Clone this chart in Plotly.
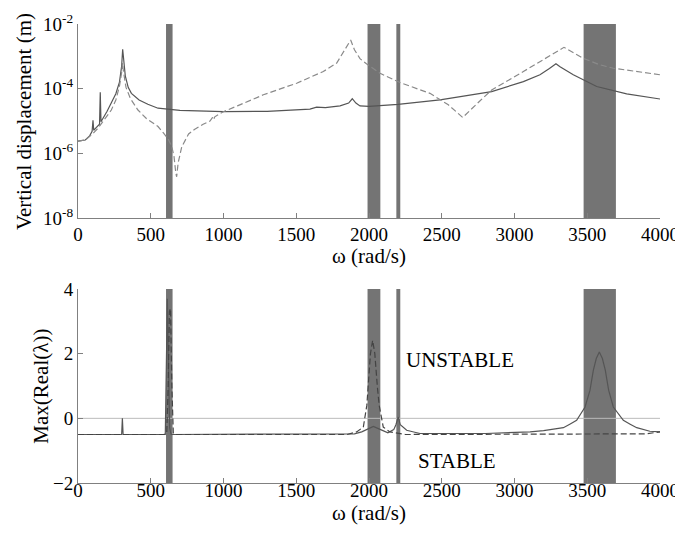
import plotly.graph_objects as go
from plotly.subplots import make_subplots

# ---------------- data ----------------
omega_solid_top = [0, 50, 80, 97, 103, 108, 125, 148, 153, 158, 200, 229, 260, 285, 300, 307, 313, 325, 345,
                   367, 420, 480, 550, 700, 1000, 1300, 1594, 1640, 1700, 1801, 1860, 1885, 1910, 1938, 2000,
                   2200, 2488, 2843, 3061, 3175, 3240, 3285, 3313, 3404, 3565, 3771, 4000]
disp_solid_top = [2.4e-6, 2.6e-6, 3.5e-6, 4.8e-6, 1.05e-5, 5.2e-6, 6.3e-6, 8.0e-6, 7.8e-5, 9.5e-6, 2.0e-5,
                  3.5e-5, 7.0e-5, 1.6e-4, 5.0e-4, 1.66e-3, 7.0e-4, 2.5e-4, 1.1e-4, 7.2e-5, 4.5e-5, 3.3e-5,
                  2.5e-5, 2.15e-5, 1.95e-5, 2.0e-5, 2.35e-5, 2.7e-5, 2.6e-5, 2.95e-5, 3.6e-5, 4.9e-5, 3.6e-5,
                  2.95e-5, 2.85e-5, 3.3e-5, 4.5e-5, 8.1e-5, 1.66e-4, 2.7e-4, 4.2e-4, 5.9e-4, 4.8e-4, 2.7e-4,
                  1.17e-4, 6.9e-5, 4.8e-5]

omega_dash_top = [0, 50, 100, 137, 180, 229, 260, 285, 300, 306, 312, 330, 360, 412, 470, 550, 587, 620, 645,
                  660, 672, 678, 688, 713, 760, 800, 860, 907, 925, 932, 940, 999, 1100, 1274, 1503, 1686,
                  1778, 1835, 1874, 1900, 1938, 1980, 2076, 2213, 2419, 2545, 2644, 2760, 2843, 3061, 3200,
                  3340, 3473, 3580, 3680, 3850, 4000]
disp_dash_top = [2.4e-6, 2.6e-6, 4.0e-6, 6.0e-6, 1.1e-5, 2.2e-5, 4.5e-5, 1.2e-4, 3.2e-4, 6.3e-4, 3.5e-4,
                 1.1e-4, 5.0e-5, 2.2e-5, 1.2e-5, 6.8e-6, 4.3e-6, 2.8e-6, 1.6e-6, 8.0e-7, 2.5e-7, 1.9e-7,
                 5.0e-7, 1.6e-6, 4.0e-6, 5.5e-6, 8.0e-6, 1.0e-5, 1.3e-5, 1.1e-5, 1.35e-5, 1.95e-5, 3.0e-5,
                 6.5e-5, 1.48e-4, 3.4e-4, 6.2e-4, 1.6e-3, 3.2e-3, 1.6e-3, 8.5e-4, 6.0e-4, 3.0e-4, 1.55e-4,
                 7.2e-5, 3.2e-5, 1.29e-5, 4.1e-5, 9.1e-5, 3.4e-4, 8.0e-4, 1.9e-3, 8.7e-4, 5.6e-4, 4.3e-4,
                 3.3e-4, 2.7e-4]

omega_solid_bot = [0, 300, 305, 310, 600, 608, 614, 620, 630, 640, 1900, 1950, 2000, 2030, 2080, 2130, 2170,
                   2185, 2201, 2215, 2259, 2350, 2800, 3107, 3200, 3336, 3380, 3427, 3485, 3519, 3542, 3562,
                   3583, 3604, 3624, 3647, 3679, 3748, 3795, 3840, 3930, 4000]
real_solid_bot = [-0.5, -0.5, 0.0, -0.5, -0.5, 1.5, 3.7, 2.0, -0.3, -0.5, -0.48, -0.42, -0.3, -0.25, -0.35,
                  -0.45, -0.35, -0.2, 0.04, -0.2, -0.37, -0.47, -0.47, -0.42, -0.38, -0.29, -0.18, -0.06, 0.35,
                  0.87, 1.49, 1.85, 2.05, 1.85, 1.49, 0.87, 0.35, -0.06, -0.18, -0.29, -0.4, -0.42]

omega_dash_bot = [0, 590, 610, 620, 628, 636, 645, 655, 665, 1850, 1915, 1961, 1985, 1995, 2010, 2025, 2040,
                  2057, 2070, 2098, 2144, 2250, 3900, 4000]
real_dash_bot = [-0.5, -0.5, -0.45, 1.0, 3.3, 3.4, 1.0, -0.45, -0.5, -0.5, -0.42, -0.27, 0.4, 1.0, 2.0, 2.41,
                 2.0, 1.0, 0.4, -0.27, -0.42, -0.5, -0.48, -0.42]

unstable_bands = [(605, 650), (1990, 2078), (2188, 2215), (3475, 3697)]

x_ticks = [0, 500, 1000, 1500, 2000, 2500, 3000, 3500, 4000]
top_y_ticks = [1e-8, 1e-6, 1e-4, 1e-2]
top_y_ticktext = ["10<sup>-8</sup>", "10<sup>-6</sup>", "10<sup>-4</sup>", "10<sup>-2</sup>"]
bot_y_ticks = [-2, 0, 2, 4]

# ---------------- figure ----------------
FONT = "Liberation Serif"
fig = make_subplots(rows=2, cols=1, vertical_spacing=0.154)

fig.add_trace(go.Scatter(x=omega_solid_top, y=disp_solid_top, mode="lines",
                         line=dict(color="#555555", width=1.2)), row=1, col=1)
fig.add_trace(go.Scatter(x=omega_dash_top, y=disp_dash_top, mode="lines",
                         line=dict(color="#8a8a8a", width=1.2, dash="6px,3px")), row=1, col=1)
fig.add_trace(go.Scatter(x=omega_solid_bot, y=real_solid_bot, mode="lines",
                         line=dict(color="#555555", width=1.2)), row=2, col=1)
fig.add_trace(go.Scatter(x=omega_dash_bot, y=real_dash_bot, mode="lines",
                         line=dict(color="#444444", width=1.2, dash="6px,3px")), row=2, col=1)

for (a, b) in unstable_bands:
    for xr, yr in (("x", "y domain"), ("x2", "y2 domain")):
        fig.add_shape(type="rect", xref=xr, yref=yr,
                      x0=a, x1=b, y0=0, y1=1, fillcolor="#747474", line=dict(width=0), layer="below")

fig.add_shape(type="line", xref="x2 domain", yref="y2", x0=0, x1=1, y0=0, y1=0,
              line=dict(color="#bbbbbb", width=1), layer="below")

axis_common = dict(showline=True, linecolor="#808080", linewidth=1, ticks="inside", ticklen=5,
                   tickcolor="#808080", showgrid=False, zeroline=False, mirror=False,
                   tickfont=dict(family=FONT, size=19, color="black"))

fig.update_xaxes(range=[0, 4000], tickvals=x_ticks, **axis_common)
fig.update_xaxes(ticklabelstandoff=-1, row=1, col=1)
fig.update_xaxes(ticklabelstandoff=-10, row=2, col=1)
fig.update_yaxes(type="log", range=[-8, -2], tickvals=top_y_ticks, ticktext=top_y_ticktext,
                 row=1, col=1, **axis_common)
fig.update_yaxes(range=[-2, 4], tickvals=bot_y_ticks, row=2, col=1, **axis_common)

title_font = dict(family=FONT, size=21, color="black")
# axis titles
fig.add_annotation(x=0.5, y=0.495, xref="paper", yref="paper", text="ω (rad/s)", showarrow=False,
                   xanchor="center", yanchor="middle", font=title_font)
fig.add_annotation(x=0.5, y=-0.066, xref="paper", yref="paper", text="ω (rad/s)", showarrow=False,
                   xanchor="center", yanchor="middle", font=title_font)
fig.add_annotation(x=-0.093, y=0.7885, xref="paper", yref="paper", text="Vertical displacement (m)",
                   showarrow=False, textangle=-90, xanchor="center", yanchor="middle",
                   font=dict(family=FONT, size=21, color="black"))
fig.add_annotation(x=-0.064, y=0.2114, xref="paper", yref="paper", text="Max(Real(λ))",
                   showarrow=False, textangle=-90, xanchor="center", yanchor="middle", font=title_font)

fig.add_annotation(x=2625, y=1.8, xref="x2", yref="y2", text="UNSTABLE", showarrow=False,
                   font=dict(family=FONT, size=21, color="black"))
fig.add_annotation(x=2602, y=-1.32, xref="x2", yref="y2", text="STABLE", showarrow=False,
                   font=dict(family=FONT, size=21, color="black"))

fig.update_layout(width=675, height=525, showlegend=False, plot_bgcolor="white", paper_bgcolor="white",
                  margin=dict(l=70, r=23, t=16, b=50, autoexpand=False))
fig.layout.yaxis.domain = [0.577, 1.0]
fig.layout.yaxis2.domain = [0.0, 0.4227]

fig.write_html("out.html")
